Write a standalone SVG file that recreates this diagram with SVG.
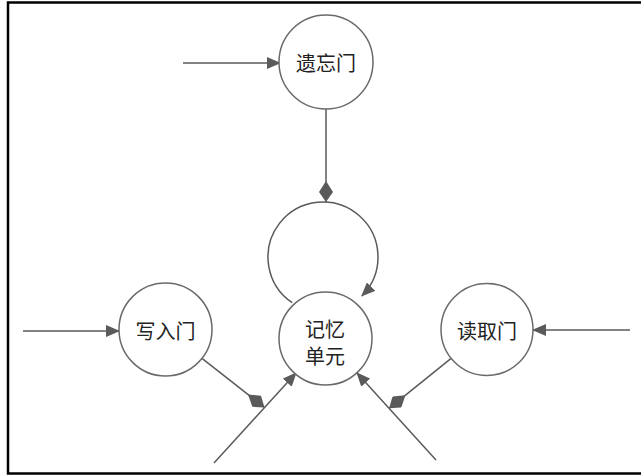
<svg xmlns="http://www.w3.org/2000/svg" width="641" height="476" viewBox="0 0 641 476">
<style>
.node circle{fill:#fff;stroke:#6a6a6a;stroke-width:1.5}
.node text{font-family:"Noto Sans CJK SC","Noto Sans CJK JP",sans-serif;font-size:20px;fill:#222;text-anchor:middle;dominant-baseline:central}
.conn line,.conn path{stroke:#5a5a5a;stroke-width:1.5;fill:none}
.arr{marker-end:url(#arrow)}
.dia{marker-end:url(#diamond)}
</style>
<defs>
<marker id="arrow" markerUnits="userSpaceOnUse" markerWidth="14" markerHeight="12" viewBox="0 0 14 12" refX="13" refY="6" orient="auto">
<path d="M0,0 L14,6 L0,12 Z" fill="#5a5a5a"/>
</marker>
<marker id="diamond" markerUnits="userSpaceOnUse" markerWidth="22" markerHeight="14" viewBox="0 0 22 14" refX="21" refY="7" orient="auto">
<path d="M0,7 L11,0 L21,7 L11,14 Z" fill="#5a5a5a"/>
</marker>
</defs>
<rect width="641" height="476" fill="#fff"/>
<path d="M641,2.5 H8 V473.5 H641" fill="none" stroke="#000" stroke-width="2.5"/>
<g class="conn">
<line class="arr" x1="183" y1="63" x2="280" y2="63"/>
<line class="dia" x1="326" y1="109" x2="326" y2="202"/>
<path class="arr" d="M292.2,302.6 A55,55 0 1 1 361.9,295.9"/>
<line class="arr" x1="23" y1="331" x2="119" y2="331"/>
<line class="arr" x1="630" y1="330" x2="533" y2="330"/>
<line class="dia" x1="202" y1="358.3" x2="264.5" y2="407.5"/>
<line class="dia" x1="450.8" y1="358.7" x2="389.1" y2="408.3"/>
<line class="arr" x1="214" y1="463" x2="296" y2="373"/>
<line class="arr" x1="436" y1="460" x2="357" y2="373"/>
</g>
<g id="forget" class="node"><circle cx="326" cy="62" r="47"/><text x="326" y="62">遗忘门</text></g>
<g id="write" class="node"><circle cx="165.5" cy="329.5" r="46.5"/><text x="165.5" y="330">写入门</text></g>
<g id="read" class="node"><circle cx="487" cy="329.5" r="46"/><text x="487" y="330">读取门</text></g>
<g id="memory" class="node"><circle cx="325.5" cy="338.5" r="46.5"/><text x="325" y="328">记忆</text><text x="325" y="355">单元</text></g>
</svg>
